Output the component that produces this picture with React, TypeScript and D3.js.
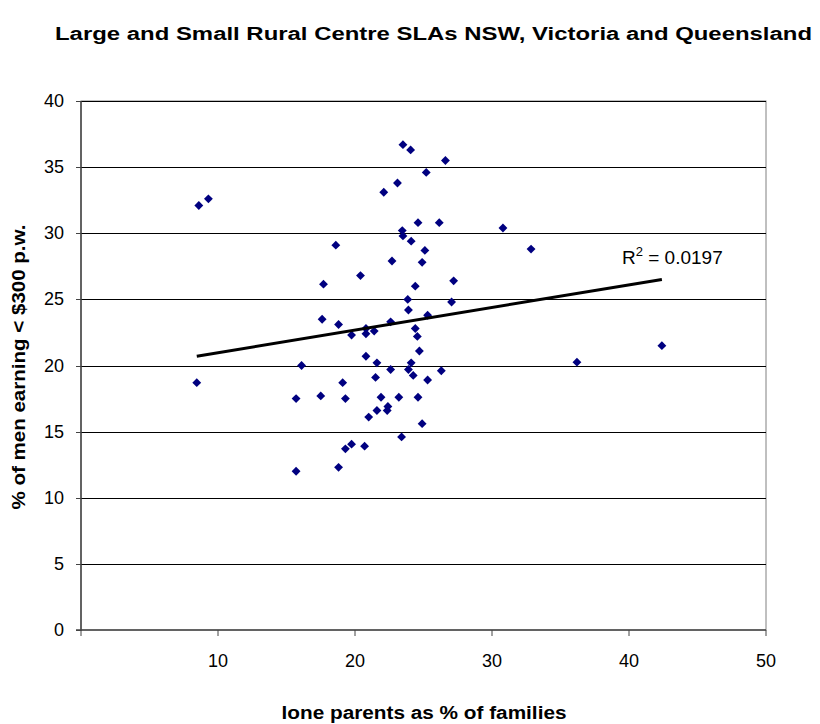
import React from "react";
import * as d3 from "d3";

const xValues: number[] = [
  8.6, 9.3, 8.45, 15.7, 15.7, 16.1, 17.5, 17.6, 17.7, 18.6, 18.8, 18.8, 19.1, 19.3, 19.3, 19.75, 19.75,
  20.4, 20.7, 20.8, 20.8, 20.8, 21.0, 21.4, 21.5, 21.6, 21.6, 21.9, 22.1, 22.4, 22.35, 22.6, 22.6, 22.7,
  23.1, 23.2, 23.4, 23.45, 23.5, 23.5, 23.85, 23.9, 23.9, 24.06, 24.1, 24.1, 24.25, 24.4, 24.4, 24.55,
  24.6, 24.6, 24.7, 24.9, 24.9, 25.1, 25.2, 25.3, 25.3, 26.15, 26.3, 26.6, 27.05, 27.2, 30.8, 32.85,
  36.2, 42.4,
];
const yValues: number[] = [
  32.1, 32.6, 18.7, 17.5, 12.0, 20.0, 17.7, 23.5, 26.15, 29.1, 23.1, 12.3, 18.7, 17.5, 13.7, 14.05, 22.3,
  26.8, 13.9, 22.8, 22.4, 20.7, 16.1, 22.6, 19.1, 20.2, 16.6, 17.6, 33.1, 16.9, 16.6, 23.3, 19.7, 27.9,
  33.8, 17.6, 14.6, 30.2, 29.8, 36.7, 25.0, 24.2, 19.7, 36.3, 29.4, 20.2, 19.25, 26.0, 22.8, 22.2,
  30.8, 17.6, 21.1, 27.8, 15.6, 28.7, 34.6, 23.8, 18.9, 30.8, 19.6, 35.5, 24.8, 26.4, 30.4, 28.8,
  20.25, 21.5,
];
const xTicks: number[] = [10, 20, 30, 40, 50];
const yTicks: number[] = [0, 5, 10, 15, 20, 25, 30, 35, 40];
const trendIntercept = 19.26;
const trendSlope = 0.171;
const trendRange: number[] = [8.45, 42.4];

const W = 820;
const H = 724;
const left = 81;
const right = 766;
const top = 101;
const bottom = 630;

export default function App() {
  const x = d3.scaleLinear().domain([0, 50]).range([left, right]);
  const y = d3.scaleLinear().domain([0, 40]).range([bottom, top]);
  const diamond = d3.symbol().type(d3.symbolDiamond2).size(50)();
  const trend = d3
    .line<number>()
    .x((d) => x(d))
    .y((d) => y(trendIntercept + trendSlope * d))(trendRange);
  const font = "'Liberation Sans', Arial, sans-serif";
  return (
    <svg
      width={W}
      height={H}
      style={{ position: "absolute", left: 0, top: 0, background: "#fff" }}
      fontFamily={font}
    >
      <rect x={0} y={0} width={W} height={H} fill="#fff" />
      <text x={55} y={40} fontWeight="bold" fontSize={18} textLength={757} lengthAdjust="spacingAndGlyphs">
        Large and Small Rural Centre SLAs NSW, Victoria and Queensland
      </text>
      {/* plot border */}
      <rect x={left} y={top} width={right - left} height={bottom - top} fill="none" stroke="#808080" strokeWidth={1} />
      {yTicks
        .filter((t) => t > 0)
        .map((t) => (
          <line key={"g" + t} x1={left} x2={right} y1={Math.round(y(t)) + 0.5} y2={Math.round(y(t)) + 0.5} stroke="#000" strokeWidth={1} />
        ))}
      {/* axes */}
      <line x1={left} x2={left} y1={top} y2={bottom + 1} stroke="#444" strokeWidth={1.5} />
      <line x1={left - 5} x2={right} y1={bottom} y2={bottom} stroke="#444" strokeWidth={1.5} />
      {yTicks.map((t) => (
        <g key={"yt" + t}>
          <line x1={left - 5} x2={left} y1={Math.round(y(t)) + 0.5} y2={Math.round(y(t)) + 0.5} stroke="#444" />
          <text x={left - 17} y={y(t) + 6} textAnchor="end" fontSize={18}>
            {t}
          </text>
        </g>
      ))}
      {[0, ...xTicks].map((t) => (
        <line key={"xtk" + t} x1={x(t)} x2={x(t)} y1={bottom} y2={bottom + 6} stroke="#444" />
      ))}
      {xTicks.map((t) => (
        <text key={"xt" + t} x={x(t)} y={667} textAnchor="middle" fontSize={18}>
          {t}
        </text>
      ))}
      {xValues.map((xv, i) => (
        <path key={"p" + i} d={diamond!} transform={`translate(${x(xv)},${y(yValues[i])})`} fill="#000080" />
      ))}
      <path d={trend!} fill="none" stroke="#000" strokeWidth={3} />
      <text x={622} y={264} fontSize={19}>
        R<tspan dy={-8} fontSize={13}>2</tspan>
        <tspan dy={8}> = 0.0197</tspan>
      </text>
      <text
        transform={`translate(25,367) rotate(-90)`}
        textAnchor="middle"
        fontWeight="bold"
        fontSize={18}
        textLength={285}
        lengthAdjust="spacingAndGlyphs"
      >
        % of men earning &lt; $300 p.w.
      </text>
      <text x={424} y={719} textAnchor="middle" fontWeight="bold" fontSize={18} textLength={285} lengthAdjust="spacingAndGlyphs">
        lone parents as % of families
      </text>
    </svg>
  );
}
